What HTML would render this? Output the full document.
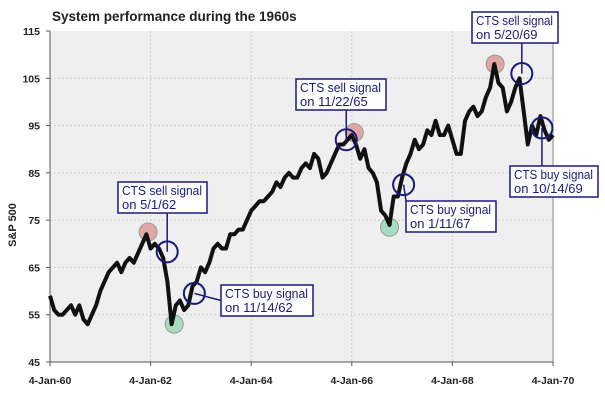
<!DOCTYPE html>
<html><head><meta charset="utf-8"><style>
body{margin:0;background:#fff;}
svg{display:block;font-family:"Liberation Sans",Arial,sans-serif;}
.lbl{font-size:13px;fill:#1a1a7a;}
</style></head><body>
<svg width="605" height="400" viewBox="0 0 605 400">
<text x="52" y="21" font-size="13.5" font-weight="bold" fill="#222">System performance during the 1960s</text>
<rect x="50" y="31" width="503" height="331" fill="#efefef"/>
<g id="grid"></g>
<g id="axes"></g>
<text transform="translate(16,225) rotate(-90)" font-size="11" font-weight="bold" text-anchor="middle" fill="#222">S&amp;P 500</text>
<g id="marks"></g>
<path id="line" fill="none" stroke="#111" stroke-width="4" stroke-linejoin="round"/>
<g id="signals"></g>
</svg>
<script>
const yTicks=[45,55,65,75,85,95,105,115];
const xTickLabels=["4-Jan-60","4-Jan-62","4-Jan-64","4-Jan-66","4-Jan-68","4-Jan-70"];
const xTickYears=[1960,1962,1964,1966,1968,1970];
const prices=[
59,56,55,55,56,57,55,57,54,53,55,57,
60,62,64,65,66,64,66,67,66,68,70,72,
69,70,69,67,62,53,57,58,56,57,61,62,
65,64,66,69,70,69,69,72,72,73,73,75,
77,78,79,79,80,81,83,82,84,85,84,84,
86,87,86,89,88,84,85,87,89,91,91,92,
93,91,88,90,86,85,83,77,76,74,80,80,
84,87,89,92,90,91,94,93,96,93,93,95,
92,89,89,96,98,99,97,98,101,103,108,104,
103,98,100,103,105,98,91,95,93,97,94,92];
const dotMarks=[{t:1961.95,v:72.5,c:"#e0a8a4"},{t:1962.47,v:53,c:"#a8dcc0"},{t:1966.05,v:93.5,c:"#e0a8a4"},{t:1966.75,v:73.5,c:"#a8dcc0"},{t:1968.85,v:108,c:"#e0a8a4"}];
const signals=[
{t:1962.33,v:68.3,l1:"CTS sell signal",l2:"on 5/1/62",bx:118,by:182,bw:89},
{t:1962.87,v:59.5,l1:"CTS buy signal",l2:"on 11/14/62",bx:221,by:285,bw:92},
{t:1965.89,v:92,l1:"CTS sell signal",l2:"on 11/22/65",bx:296,by:79,bw:90},
{t:1967.03,v:82.5,l1:"CTS buy signal",l2:"on 1/11/67",bx:406,by:201,bw:90},
{t:1969.38,v:106,l1:"CTS sell signal",l2:"on 5/20/69",bx:472,by:12,bw:86},
{t:1969.78,v:94.5,l1:"CTS buy signal",l2:"on 10/14/69",bx:510,by:166,bw:88}];
const X=t=>50+(t-1960)*50.3;
const Y=v=>362-(v-45)*4.7286;
const NS="http://www.w3.org/2000/svg";
function mk(tag,attrs,parent){const e=document.createElementNS(NS,tag);for(const k in attrs)e.setAttribute(k,attrs[k]);parent.appendChild(e);return e;}
const grid=document.getElementById('grid'),axes=document.getElementById('axes');
yTicks.forEach(v=>{
 if(v>45&&v<115){const g=mk('line',{x1:50,x2:553,y1:Y(v),y2:Y(v),stroke:'#cfcfcf','stroke-dasharray':'2,2'},grid);
 
 }
 const tk=mk('line',{x1:46,x2:50,y1:Y(v),y2:Y(v),stroke:'#555'},axes);
 
 
 const t=mk('text',{x:40,y:Y(v)+4,'text-anchor':'end','font-size':'10.5','font-weight':'bold',fill:'#222'},axes);t.textContent=v;
 
 
});
xTickYears.forEach((yr,i)=>{
 if(i>0&&i<5){const g=mk('line',{x1:X(yr),x2:X(yr),y1:31,y2:362,stroke:'#cfcfcf','stroke-dasharray':'2,2'},grid);
 
 }
 const tk=mk('line',{x1:X(yr),x2:X(yr),y1:362,y2:366,stroke:'#555'},axes);
 
 
 const t=mk('text',{x:X(yr),y:384,'text-anchor':'middle','font-size':'10.5','font-weight':'bold',fill:'#222'},axes);t.textContent=xTickLabels[i];
 
 
});
const ax1=mk('line',{x1:50,x2:50,y1:31,y2:362,stroke:'#555'},axes);


const ax2=mk('line',{x1:50,x2:553,y1:362,y2:362,stroke:'#555'},axes);


const ax3=mk('line',{x1:553,x2:553,y1:31,y2:362,stroke:'#888'},axes);


const marks=document.getElementById('marks');
dotMarks.forEach(d=>{const c=mk('circle',{cx:X(d.t),cy:Y(d.v),r:9,fill:d.c,stroke:'#999','stroke-width':1},marks);
 
 });
let p='';prices.forEach((v,i)=>{p+=(i?'L':'M')+X(1960+i/12).toFixed(1)+','+Y(v).toFixed(1);});
p+='L'+X(1970).toFixed(1)+','+Y(prices[prices.length-1]+1).toFixed(1);
document.getElementById('line').setAttribute('d',p);
const sg=document.getElementById('signals');
signals.forEach(s=>{
 const cx=X(s.t),cy=Y(s.v);
 const bh=31;
 const ex=Math.max(s.bx,Math.min(s.bx+s.bw,cx)), ey=(cy<s.by)?s.by:(cy>s.by+bh?s.by+bh:s.by+bh/2);
 const lx=(cx<s.bx)?s.bx:(cx>s.bx+s.bw?s.bx+s.bw:ex);
 const ln=mk('line',{x1:cx,y1:cy,x2:lx,y2:ey,stroke:'#1a1a7a','stroke-width':1.5},sg);
 
 
 const c=mk('circle',{cx:cx,cy:cy,r:10.5,fill:'none',stroke:'#1a1a7a','stroke-width':2},sg);
 
 
 const g=mk('g',{},sg);
 
 
 mk('rect',{x:s.bx,y:s.by,width:s.bw,height:bh,fill:'#fff',stroke:'#1a1a7a','stroke-width':1.5},g);
 const t1=mk('text',{x:s.bx+4,y:s.by+13,class:'lbl',textLength:s.bw-9,lengthAdjust:'spacingAndGlyphs'},g);t1.textContent=s.l1;
 const t2=mk('text',{x:s.bx+4,y:s.by+27,class:'lbl'},g);t2.textContent=s.l2;
});
</script>
</body></html>
